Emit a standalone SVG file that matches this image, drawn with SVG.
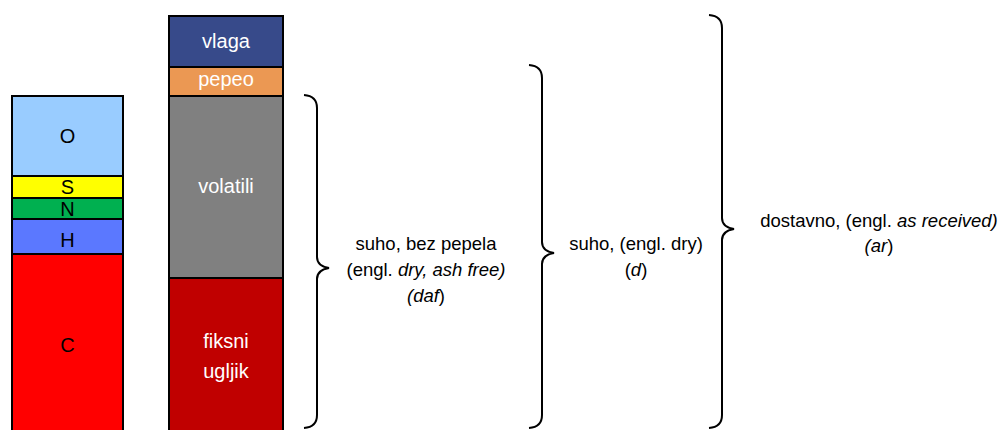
<svg xmlns="http://www.w3.org/2000/svg" width="1003" height="430" viewBox="0 0 1003 430">
<style>
.seg{stroke:#000;stroke-width:2}
.lb{font-family:"Liberation Sans",Arial,sans-serif;font-size:20px;text-anchor:middle}
.dk{fill:#000}
.wt{fill:#fff}
.tx{font-family:"Liberation Sans",Arial,sans-serif;font-size:18.5px;text-anchor:middle;fill:#000}
.it{font-style:italic}
.br{fill:none;stroke:#000;stroke-width:2}
</style>
<rect width="1003" height="430" fill="#fff"/>
<g id="elements">
  <g id="O"><rect class="seg" x="12" y="96" width="111" height="80" fill="#99CCFF"/><text class="lb dk" x="67.5" y="143">O</text></g>
  <g id="S"><rect class="seg" x="12" y="176" width="111" height="22" fill="#FFFF00"/><text class="lb dk" x="67.5" y="194">S</text></g>
  <g id="N"><rect class="seg" x="12" y="198" width="111" height="21" fill="#00B050"/><text class="lb dk" x="67.5" y="216">N</text></g>
  <g id="H"><rect class="seg" x="12" y="219" width="111" height="35" fill="#5B78FF"/><text class="lb dk" x="67.5" y="247">H</text></g>
  <g id="C"><rect class="seg" x="12" y="254" width="111" height="190" fill="#FF0000"/><text class="lb dk" x="67.5" y="352">C</text></g>
</g>
<g id="components">
  <g id="vlaga"><rect class="seg" x="169" y="16" width="114" height="51" fill="#374A8A"/><text class="lb wt" x="226" y="48">vlaga</text></g>
  <g id="pepeo"><rect class="seg" x="169" y="67" width="114" height="29" fill="#EB9853"/><text class="lb wt" x="226" y="86">pepeo</text></g>
  <g id="volatili"><rect class="seg" x="169" y="96" width="114" height="182" fill="#808080"/><text class="lb wt" x="226" y="193">volatili</text></g>
  <g id="fiksni"><rect class="seg" x="169" y="278" width="114" height="166" fill="#C00000"/><text class="lb wt" x="226" y="348">fiksni</text><text class="lb wt" x="226" y="378">ugljik</text></g>
</g>
<g id="connectors">
  <path class="br" d="M304,95 Q317,96 317,108 L317,257 Q317,266 329,268 Q317,270 317,279 L317,415 Q317,427 304,428"/>
  <path class="br" d="M529,65 Q542,66 542,78 L542,242 Q542,251 554,253 Q542,255 542,264 L542,415 Q542,427 529,428"/>
  <path class="br" d="M709,15 Q722,16 722,28 L722,218 Q722,227 734,229 Q722,231 722,240 L722,415 Q722,427 709,428"/>
</g>
<g id="label-daf">
  <text class="tx" x="426" y="249.5">suho, bez pepela</text>
  <text class="tx" x="426" y="275.5">(engl. <tspan class="it">dry, ash free)</tspan></text>
  <text class="tx" x="426" y="301.5"><tspan class="it">(daf</tspan>)</text>
</g>
<g id="label-d">
  <text class="tx" x="636" y="249.5">suho, (engl. dry)</text>
  <text class="tx" x="636" y="275.5">(<tspan class="it">d</tspan>)</text>
</g>
<g id="label-ar">
  <text class="tx" x="879" y="226.5">dostavno, (engl. <tspan class="it">as received)</tspan></text>
  <text class="tx" x="879" y="251.5"><tspan class="it">(ar</tspan>)</text>
</g>
</svg>
